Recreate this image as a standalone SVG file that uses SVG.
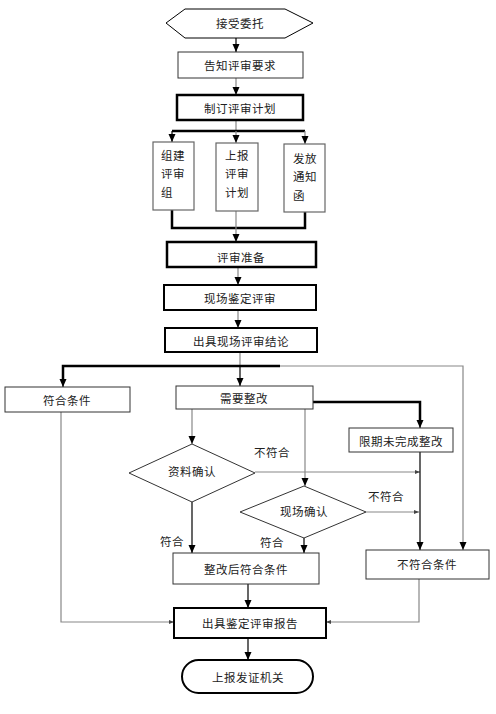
<svg xmlns="http://www.w3.org/2000/svg" width="496" height="714" viewBox="0 0 496 714">
<style>
text{font-family:"Noto Sans CJK SC","Liberation Sans",sans-serif;font-size:11.5px;fill:#222;text-anchor:middle;dominant-baseline:central;letter-spacing:0.5px}
.n{fill:#fff;stroke:#333;stroke-width:1}
.h{fill:#fff;stroke:#000;stroke-width:1}
.gb{fill:#fff;stroke:#666;stroke-width:1.2}
.t{fill:#fff;stroke:#000;stroke-width:2.5}
.t2{fill:#fff;stroke:#000;stroke-width:2}
.g{fill:none;stroke:#888;stroke-width:1.2}
.k{fill:none;stroke:#000;stroke-width:1.2}
.b{fill:none;stroke:#000;stroke-width:2.5}
</style>
<defs>
<marker id="a" markerUnits="userSpaceOnUse" markerWidth="8" markerHeight="8" refX="8" refY="4" orient="auto"><path d="M0,0.5 L8,4 L0,7.5 z" fill="#000"/></marker>
<marker id="s" markerUnits="userSpaceOnUse" markerWidth="5" markerHeight="5" refX="5" refY="2.5" orient="auto"><path d="M0,0.5 L5,2.5 L0,4.5 z" fill="#444"/></marker>
</defs>
<rect width="496" height="714" fill="#fff"/>
<g id="connectors">
<path class="k" d="M236,37 V52" marker-end="url(#a)"/>
<path class="g" d="M236,78 V95" marker-end="url(#a)"/>
<path class="g" d="M236,120 V131"/>
<path class="b" d="M172,131 H305"/>
<path class="k" d="M172,131 V142" marker-end="url(#a)"/>
<path class="g" d="M236,131 V143" marker-end="url(#a)"/>
<path class="g" d="M305,131 V144" marker-end="url(#a)"/>
<path class="b" d="M172,210 V228 H305 V212"/>
<path class="g" d="M236,211 V242" marker-end="url(#a)"/>
<path class="g" d="M238,267 V285" marker-end="url(#a)"/>
<path class="g" d="M238,310 V328" marker-end="url(#a)"/>
<path class="g" d="M240,352 V366"/>
<path class="b" d="M280,366 H63 V380"/>
<path class="k" d="M63,378 V387" marker-end="url(#a)"/>
<path class="k" d="M240,366 V386" marker-end="url(#a)"/>
<path class="g" d="M280,366 H463 V550" marker-end="url(#a)"/>
<path class="b" d="M313,402 H420 V420"/>
<path class="k" d="M420,418 V428" marker-end="url(#a)"/>
<path class="g" d="M192,409 V444" marker-end="url(#a)"/>
<path class="g" d="M305,409 V486" marker-end="url(#a)"/>
<path class="g" d="M255,472 H420" marker-end="url(#s)"/>
<path class="g" d="M366,512 H419" marker-end="url(#s)"/>
<path class="k" d="M420,452 V550" marker-end="url(#a)"/>
<path class="k" d="M192,502 V553" marker-end="url(#a)"/>
<path class="k" d="M304,538 V553" marker-end="url(#a)"/>
<path class="k" d="M248,584 V608" marker-end="url(#a)"/>
<path class="g" d="M61,412 V622 H174" marker-end="url(#s)"/>
<path class="g" d="M419,579 V622 H326" marker-end="url(#s)"/>
<path class="k" d="M248,638 V660" marker-end="url(#a)"/>
<text x="272" y="452">不符合</text>
<text x="386" y="496">不符合</text>
<text x="172" y="541">符合</text>
<text x="272" y="542">符合</text>
</g>
<g id="n1"><polygon class="h" points="166,23 185,9 285,9 313,23 285,38 185,38"/><text x="240" y="23">接受委托</text></g>
<g id="n2"><rect class="n" x="178" y="52" width="125" height="26"/><text x="240" y="65">告知评审要求</text></g>
<g id="n3"><rect class="t" x="177" y="95" width="126" height="25"/><text x="240" y="108">制订评审计划</text></g>
<g id="n4"><rect class="gb" x="153" y="142" width="41" height="68"/><text x="173" y="155">组建</text><text x="173" y="173">评审</text><text x="167" y="192">组</text></g>
<g id="n5"><rect class="gb" x="216" y="143" width="42" height="68"/><text x="237" y="155">上报</text><text x="237" y="173">评审</text><text x="237" y="192">计划</text></g>
<g id="n6"><rect class="gb" x="284" y="144" width="41" height="68"/><text x="305" y="158">发放</text><text x="305" y="176">通知</text><text x="299" y="195">函</text></g>
<g id="n7"><rect class="t" x="167" y="242" width="149" height="25"/><text x="241" y="257">评审准备</text></g>
<g id="n8"><rect class="t2" x="164" y="285" width="152" height="25"/><text x="240" y="298">现场鉴定评审</text></g>
<g id="n9"><rect class="t2" x="165" y="328" width="152" height="24"/><text x="241" y="341">出具现场评审结论</text></g>
<g id="n10"><rect class="n" x="5" y="387" width="125" height="25"/><text x="67" y="400">符合条件</text></g>
<g id="n11"><rect class="n" x="176" y="386" width="137" height="23"/><text x="244" y="398">需要整改</text></g>
<g id="n12"><rect class="n" x="349" y="428" width="104" height="24"/><text x="401" y="441">限期未完成整改</text></g>
<g id="n13"><polygon class="n" points="129,473 192,444 255,473 192,502"/><text x="192" y="471">资料确认</text></g>
<g id="n14"><polygon class="n" points="240,512 304,486 366,512 304,538"/><text x="304" y="511">现场确认</text></g>
<g id="n15"><rect class="n" x="173" y="553" width="146" height="31"/><text x="246" y="569">整改后符合条件</text></g>
<g id="n16"><rect class="n" x="366" y="550" width="123" height="29"/><text x="427" y="564">不符合条件</text></g>
<g id="n17"><rect class="t2" x="174" y="608" width="152" height="30"/><text x="250" y="623">出具鉴定评审报告</text></g>
<g id="n18"><rect class="t2" x="182" y="660" width="131" height="33" rx="16.5"/><text x="248" y="677">上报发证机关</text></g>
</svg>
